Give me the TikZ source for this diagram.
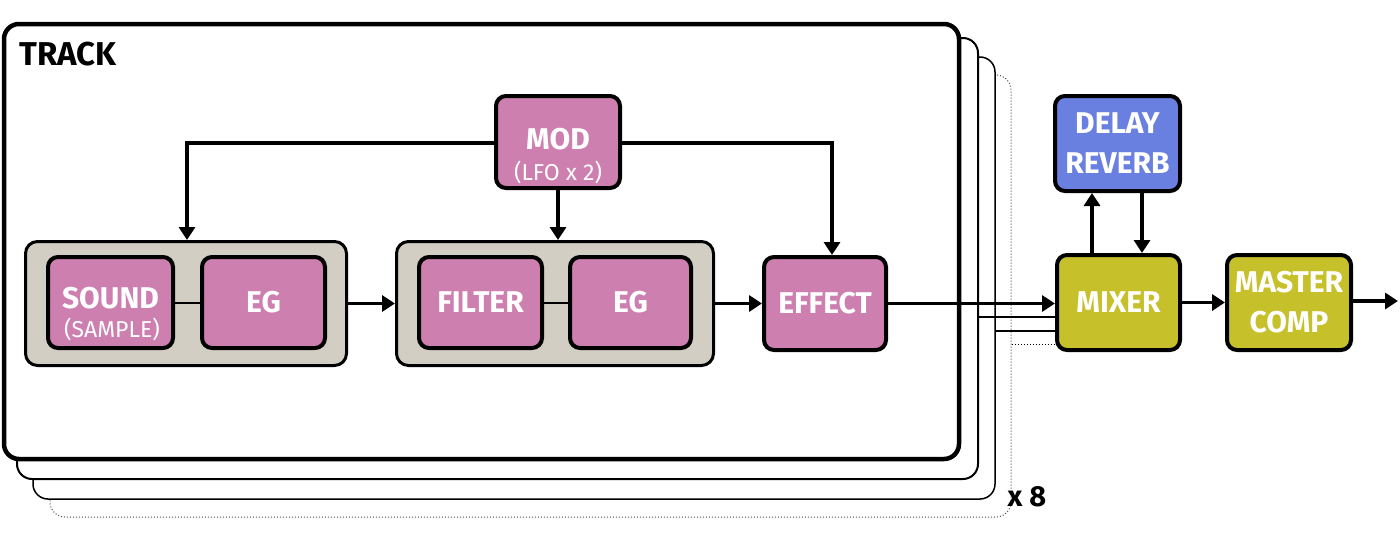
\documentclass[tikz,border=0pt]{standalone}
\usepackage{fontspec}
\setmainfont{Fira Sans}
\usetikzlibrary{arrows.meta}
\definecolor{pinkbox}{RGB}{205,127,176}
\definecolor{grpfill}{RGB}{210,206,196}
\definecolor{olivebox}{RGB}{198,192,42}
\definecolor{bluebox}{RGB}{106,128,224}
\begin{document}
\begin{tikzpicture}[x=1pt,y=-1pt,
  blk/.style={draw, line width=4pt, rounded corners=10pt, fill=pinkbox, text=white,
    font=\bfseries\fontsize{30}{40}\selectfont, align=center, inner sep=0pt},
  maintxt/.style={font=\bfseries\fontsize{30}{40}\selectfont, text=white, inner sep=0pt},
  subtxt/.style={text=white, font=\fontsize{23}{26}\selectfont, inner sep=0pt},
  grp/.style={draw, line width=3pt, rounded corners=12pt, fill=grpfill, inner sep=0pt},
  frm/.style={draw, rounded corners=15pt, fill=white, inner sep=0pt},
  arr/.style={line width=3.5pt, -{Triangle[length=13pt,width=16pt]}},
  link/.style={line width=2pt},
]
\useasboundingbox (0,0) rectangle (1400,541);

% stacked track frames (back to front)
\node[frm, line width=1pt, dotted, draw=black!70, minimum width=961pt, minimum height=442pt] (f4) at (530.5,296) {};
\node[frm, line width=1.5pt, minimum width=962pt, minimum height=442pt] (f3) at (514,278) {};
\node[frm, line width=2pt, minimum width=961pt, minimum height=441pt] (f2) at (497.5,258.5) {};
\node[frm, line width=4.5pt, minimum width=955pt, minimum height=435pt] (f1) at (481.5,241.5) {};

\node[anchor=west, inner sep=0pt, font=\bfseries\fontsize{33}{36}\selectfont] (title) at (19,54) {TRACK};

% groups
\node[grp, minimum width=321pt, minimum height=124pt] (g1) at (186,303.5) {};
\node[grp, minimum width=317pt, minimum height=124pt] (g2) at (555,303.5) {};

% blocks
\node[blk, minimum width=125pt, minimum height=91pt] (sound) at (110.5,302.5) {};
\node[maintxt] (soundt) at (110.5,298) {SOUND};
\node[subtxt] (soundsub) at (112,329) {(SAMPLE)};
\node[blk, minimum width=123pt, minimum height=91pt] (eg1) at (263.5,302.5) {EG};
\node[blk, minimum width=123pt, minimum height=91pt] (filter) at (480.5,302.5) {FILTER};
\node[blk, minimum width=121pt, minimum height=91pt] (eg2) at (630.5,302.5) {EG};
\node[blk, minimum width=122pt, minimum height=93pt] (eff) at (825,303.5) {EFFECT};
\node[blk, minimum width=124pt, minimum height=92pt] (mod) at (558,142) {};
\node[maintxt] (modt) at (558,139) {MOD};
\node[subtxt] (modsub) at (558,172) {(LFO x 2)};

\node[blk, fill=bluebox, minimum width=125pt, minimum height=95pt] (dly) at (1117.5,143.5) {DELAY\\REVERB};
\node[blk, fill=olivebox, minimum width=123pt, minimum height=95pt] (mix) at (1118.5,302.5) {MIXER};
\node[blk, fill=olivebox, minimum width=124pt, minimum height=95pt] (mst) at (1289,302.5) {MASTER\\COMP};

\node[inner sep=0pt, font=\bfseries\fontsize{29}{32}\selectfont] (x8) at (1027,497) {x 8};

% internal links
\draw[link] (sound.east) -- (eg1.west);
\draw[link] (filter.east) -- (eg2.west);

% signal flow
\draw[arr] (g1.east) -- (g2.west);
\draw[arr] (g2.east) -- (eff.west);
\draw[arr] (eff.east) -- (mix.west |- eff.east);
\draw[link, line width=2.5pt] (f2.east |- 0,317) -- (mix.west |- 0,317);
\draw[link, line width=1.5pt] (f3.east |- 0,331) -- (mix.west |- 0,331);
\draw[line width=1pt, dotted] (f4.east |- 0,344) -- (mix.west |- 0,344);

% modulation
\coordinate (modL) at (187,143);
\coordinate (modR) at (832,143);
\draw[arr] (mod.west |- modL) -- (modL) -- (modL |- g1.north);
\draw[arr] (mod.south) -- (mod.south |- g2.north);
\draw[arr] (mod.east |- modR) -- (modR) -- (modR |- eff.north);

% send / return
\coordinate (sendx) at (1092,0);
\coordinate (retx) at (1142,0);
\draw[arr] (sendx |- mix.north) -- (sendx |- dly.south);
\draw[arr] (retx |- dly.south) -- (retx |- mix.north);

\draw[arr] (mix.east) -- (mst.west);
\coordinate (out) at (1398,301);
\draw[arr] (mst.east |- out) -- (out);
\end{tikzpicture}
\end{document}
